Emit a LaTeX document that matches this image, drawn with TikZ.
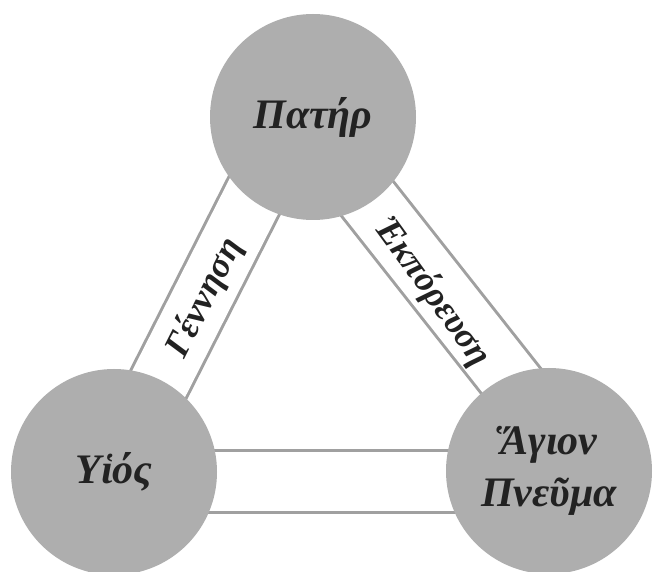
\documentclass[tikz,border=0pt]{standalone}
\usepackage{fontspec}
\setmainfont{Liberation Serif}
\definecolor{disc}{RGB}{174,174,174}
\definecolor{bandc}{RGB}{160,160,160}
\definecolor{ink}{RGB}{34,34,34}
\begin{document}
\begin{tikzpicture}[x=1pt,y=-1pt,
  person/.style={circle,fill=disc,minimum size=206pt,inner sep=0pt,
    text=ink,align=center,font=\fontsize{42}{56}\selectfont\bfseries\itshape},
  bandpath/.style={draw=bandc,line width=3pt,double=white,double distance=59pt},
  rel/.style={text=ink,inner sep=0pt,font=\fontsize{36}{40}\selectfont\bfseries\itshape}]
\useasboundingbox (0,0) rectangle (654,572);
\fill[white] (0,0) rectangle (654,572);
% centres
\coordinate (P) at (313,117);
\coordinate (Y) at (114,472);
\coordinate (H) at (549,471);
% band axis ends
\coordinate (gT) at (294,117);
\coordinate (eB) at (582,471);
\coordinate (bL) at (114,481);
\coordinate (bR) at (549,481);
\coordinate (eT) at (303,117);
% bands
\draw[bandpath] (gT) -- (Y);
\draw[bandpath] (eT) -- (eB);
\draw[bandpath] (bL) -- (bR);
% persons
\node[person] (pat) at (P) {Πατήρ};
\node[person] (yios) at (Y) {Υἱός};
\node[person] (pn) at (H) {Ἅγιον\\[-4pt]Πνεῦμα};
% relation labels
\node[rel,rotate=63.3] (gen) at (205,298) {Γέννηση};
\node[rel,rotate=-54] (ekp) at (432,292) {Ἐκπόρευση};
\end{tikzpicture}
\end{document}
